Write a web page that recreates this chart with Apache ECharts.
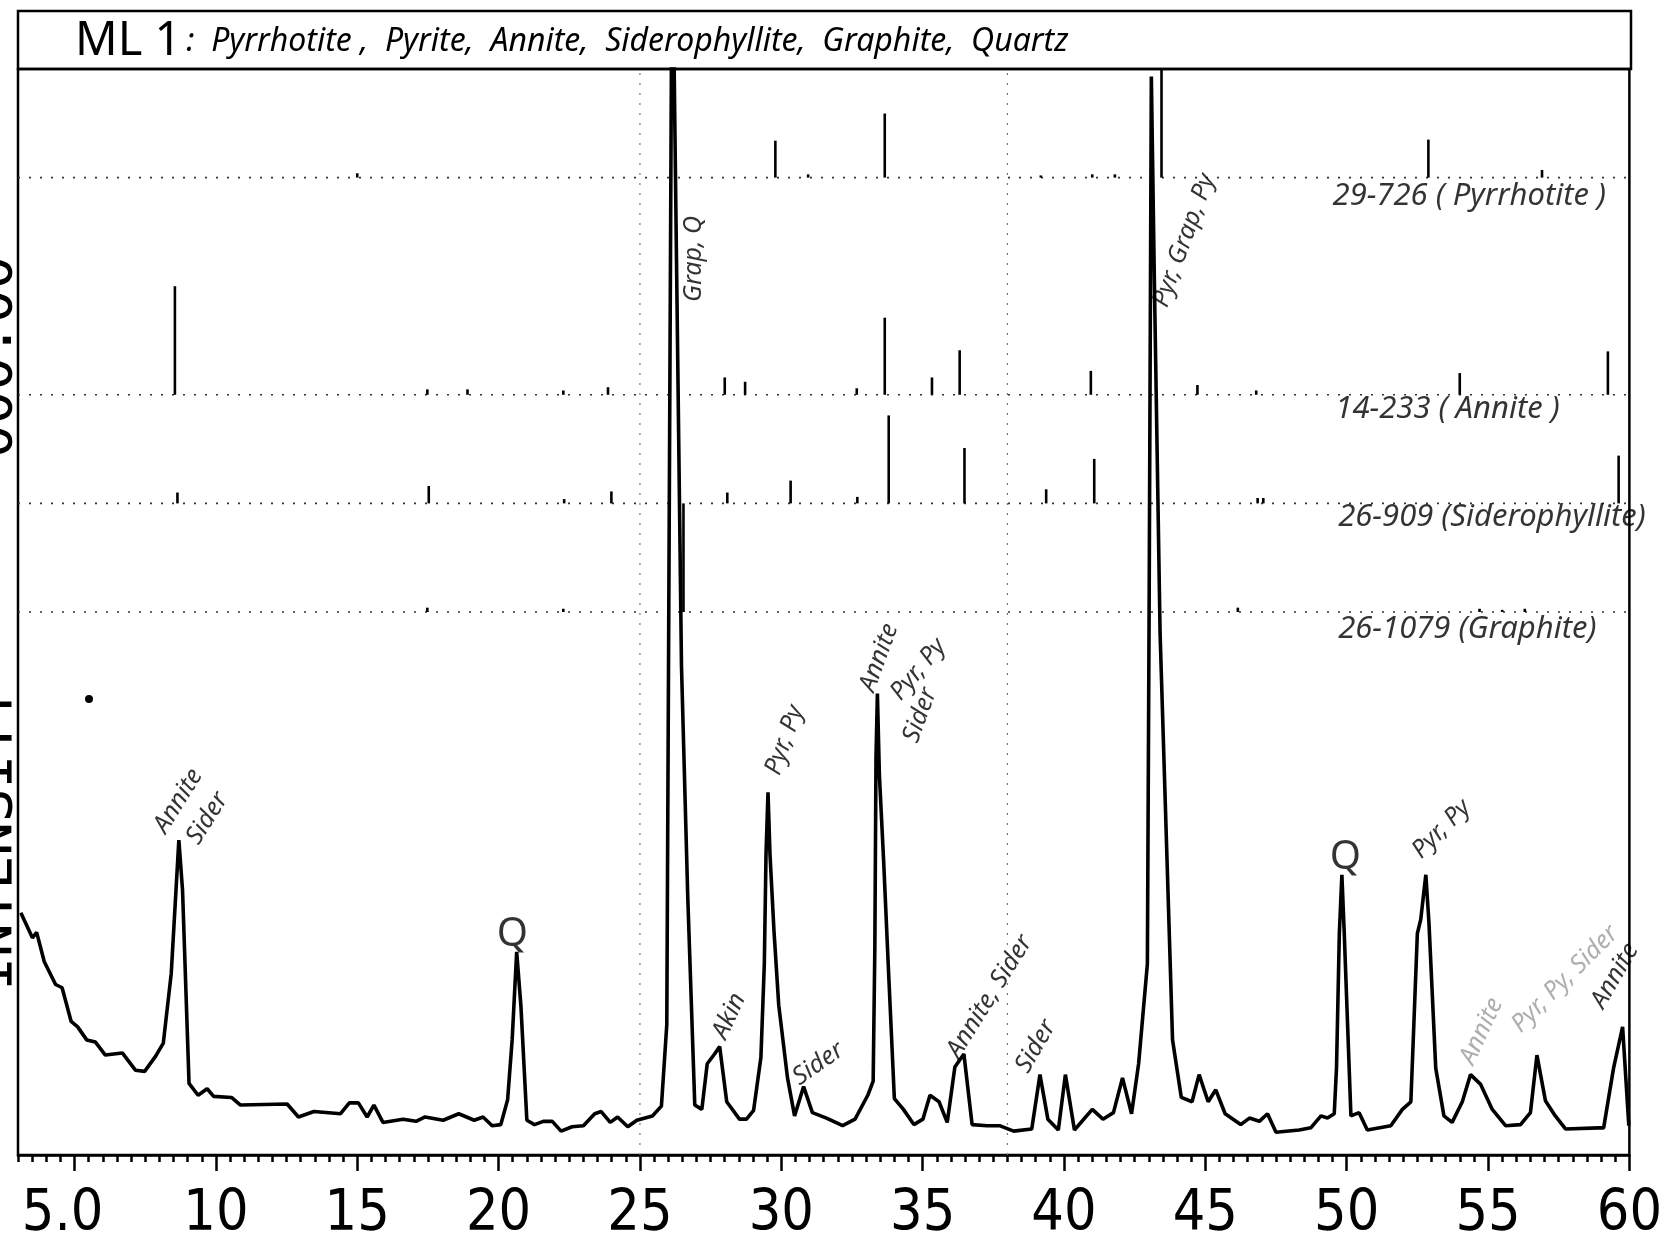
<!DOCTYPE html>
<html>
<head>
<meta charset="utf-8">
<title>ML 1 XRD</title>
<script src="https://cdn.jsdelivr.net/npm/echarts@6/dist/echarts.min.js"></script>
<style>
  html, body { margin: 0; padding: 0; background: #fff; }
  #chart { width: 1665px; height: 1248px; }
</style>
</head>
<body>
<div id="chart"></div>
<script>
// measured pattern (2-theta, intensity in chart units, top of frame = 1000)
var twoTheta = [3.10, 3.51, 3.66, 3.93, 4.33, 4.56, 4.88, 5.11, 5.43, 5.74, 6.09, 6.69, 7.16, 7.48, 7.87, 8.14, 8.42, 8.69, 8.82, 9.05,
  9.37, 9.69, 9.92, 10.55, 10.87, 12.52, 12.92, 13.47, 14.41, 14.72, 15.04, 15.35, 15.59, 15.91, 16.62, 17.08, 17.40, 18.04, 18.59, 19.14,
  19.45, 19.77, 20.08, 20.32, 20.48, 20.64, 20.79, 21.00, 21.27, 21.58, 21.90, 22.21, 22.60, 23.00, 23.40, 23.63, 23.95, 24.21, 24.57, 24.89,
  25.44, 25.76, 25.95, 26.14, 26.47, 26.69, 26.94, 27.19, 27.38, 27.64, 27.82, 28.07, 28.52, 28.77, 29.02, 29.28, 29.40, 29.46, 29.53, 29.60,
  29.74, 29.91, 30.22, 30.47, 30.79, 31.10, 31.60, 32.17, 32.61, 33.06, 33.25, 33.31, 33.35, 33.40, 33.47, 33.62, 33.81, 34.00, 34.32, 34.69,
  35.01, 35.26, 35.58, 35.87, 36.14, 36.46, 36.75, 37.28, 37.72, 38.22, 38.86, 39.15, 39.43, 39.80, 40.05, 40.37, 41.00, 41.38, 41.75, 42.07,
  42.39, 42.64, 42.95, 43.01, 43.09, 43.20, 43.40, 43.84, 44.15, 44.53, 44.78, 45.10, 45.37, 45.70, 46.25, 46.56, 46.91, 47.20, 47.50, 48.32,
  48.73, 49.09, 49.32, 49.56, 49.64, 49.74, 49.83, 49.91, 50.15, 50.44, 50.73, 51.56, 51.97, 52.27, 52.50, 52.62, 52.80, 52.91, 53.15, 53.44,
  53.73, 54.09, 54.38, 54.74, 55.15, 55.62, 56.15, 56.50, 56.73, 57.03, 57.38, 57.74, 58.91, 59.09, 59.44, 59.76, 59.98];
var intensity = [223, 200, 205, 178, 157, 154, 123, 118, 106, 104, 92, 94, 78, 77, 91, 103, 167, 290, 244, 66,
  55, 61, 54, 53, 46, 47, 35, 40, 38, 48, 48, 35, 46, 30, 33, 31, 35, 32, 38, 32,
  35, 27, 28, 51, 106, 187, 137, 32, 28, 31, 31, 22, 26, 27, 38, 40, 30, 35, 26, 32,
  36, 45, 120, 1150, 450, 239, 46, 42, 84, 93, 100, 49, 33, 33, 41, 90, 176, 277, 334, 277,
  207, 138, 71, 36, 63, 39, 34, 27, 33, 55, 68, 192, 366, 425, 350, 271, 160, 52, 42, 28,
  33, 55, 49, 30, 81, 93, 28, 27, 27, 22, 24, 74, 33, 23, 74, 23, 42, 33, 39, 71,
  38, 84, 176, 493, 993, 800, 480, 106, 53, 49, 74, 49, 60, 38, 28, 34, 31, 38, 21, 23,
  25, 36, 34, 38, 80, 204, 258, 207, 36, 39, 23, 27, 42, 49, 204, 217, 258, 214, 80, 36,
  30, 49, 74, 65, 42, 27, 28, 39, 92, 50, 36, 24, 25, 25, 80, 118, 27];

// reference cards: baseline level and [2-theta, relative intensity] sticks
var cardNames = ['29-726 ( Pyrrhotite )', '14-233 ( Annite )', '26-909 (Siderophyllite)', '26-1079 (Graphite)'];
var cardBase = [900, 700, 600, 500];
var pyrrhotiteSticks = [[15.0, 4], [29.79, 34], [30.95, 3], [33.66, 59], [39.18, 2], [41.0, 3], [41.8, 3], [43.45, 100], [52.89, 35], [56.91, 7]];
var anniteSticks = [[8.55, 100], [17.48, 5], [18.9, 5], [22.29, 4], [23.87, 7], [28.0, 16], [28.72, 12], [32.67, 6], [33.66, 71], [35.33, 16],
  [36.31, 41], [40.95, 22], [44.72, 9], [46.8, 4], [54.0, 20], [59.24, 40]];
var siderSticks = [[8.64, 10], [17.53, 16], [22.32, 4], [23.99, 11], [28.09, 10], [30.33, 21], [32.69, 6], [33.8, 81], [36.48, 51], [39.37, 13],
  [41.07, 41], [46.85, 5], [47.05, 5], [59.62, 44]];
var graphiteSticks = [[17.48, 4], [22.29, 3], [26.54, 100], [46.15, 4], [54.7, 3], [55.5, 2], [56.3, 3]];
var allSticks = [pyrrhotiteSticks, anniteSticks, siderSticks, graphiteSticks];

// axis ticks
var majorTicks = [5, 10, 15, 20, 25, 30, 35, 40, 45, 50, 55, 60];
var minorTicks = [];
for (var t = 3; t <= 60; t += 0.5) {
  if (t % 5 !== 0) minorTicks.push(t);
}
var scanLines = [25, 38];

// handwritten peak notes: text, 2-theta, intensity, rotation
var notes = [
  ['Annite', 8.67, 326, 58], ['Sider', 9.7, 310, 58], ['Q', 20.49, 203, 0],
  ['Grap, Q', 26.92, 825, 90], ['Akin', 28.16, 128, 65], ['Pyr, Py', 30.12, 382, 70],
  ['Sider', 31.31, 84, 35], ['Annite', 33.46, 458, 70], ['Pyr, Py', 34.85, 447, 50],
  ['Sider', 34.91, 405, 70], ['Annite, Sider', 37.37, 146, 58], ['Sider', 39.0, 100, 60],
  ['Pyr, Grap, Py', 44.25, 842, 70], ['Q', 49.95, 274, 0], ['Pyr, Py', 53.35, 300, 45],
  ['Annite', 54.77, 114, 65], ['Pyr, Py, Sider', 57.72, 162, 45], ['Annite', 59.49, 165, 60]
];
var faintNotes = ['Annite|54.77', 'Pyr, Py, Sider|57.72'];
var cardLabelPos = [[49.5, 883], [49.6, 687], [49.7, 587], [49.7, 484]];

var hand = "'Noto Sans', 'DejaVu Sans', sans-serif";
var plotter = "'Liberation Sans Narrow', 'DejaVu Sans Condensed', 'DejaVu Sans Mono', monospace";

var chart = echarts.init(document.getElementById('chart'));

function stickRenderer(base) {
  return function (params, api) {
    var p0 = api.coord([api.value(0), base]);
    var p1 = api.coord([api.value(0), base + api.value(1)]);
    return {
      type: 'line',
      shape: { x1: p0[0], y1: p0[1], x2: p1[0], y2: p1[1] },
      style: { stroke: '#000', lineWidth: 2.6 }
    };
  };
}

var series = [];
series.push({
  name: 'ML 1',
  type: 'line',
  data: twoTheta.map(function (x, i) { return [x, intensity[i]]; }),
  showSymbol: false,
  clip: true,
  lineStyle: { color: '#000', width: 3.6 },
  z: 5
});

scanLines.forEach(function (x) {
  series.push({
    type: 'line',
    data: [[x, 0], [x, 1000]],
    showSymbol: false,
    silent: true,
    lineStyle: { color: '#777', width: 1.2, type: [2, 8] },
    z: 1
  });
});

cardBase.forEach(function (base, i) {
  series.push({
    type: 'line',
    data: [[3, base], [60, base]],
    showSymbol: false,
    silent: true,
    lineStyle: { color: '#333', width: 1.6, type: [2, 9] },
    z: 2
  });
  series.push({
    name: cardNames[i],
    type: 'custom',
    clip: true,
    renderItem: stickRenderer(base),
    data: allSticks[i],
    z: 4
  });
  series.push({
    type: 'scatter',
    symbolSize: 0,
    silent: true,
    data: [{
      value: cardLabelPos[i],
      label: {
        show: true, position: 'right', distance: 0,
        formatter: cardNames[i],
        fontFamily: hand, fontStyle: 'italic', fontSize: 31, color: '#000'
      }
    }],
    z: 6
  });
});

series.push({
  type: 'scatter',
  symbolSize: 0,
  silent: true,
  data: notes.map(function (n) {
    var faint = faintNotes.indexOf(n[0] + '|' + n[1]) >= 0;
    return {
      value: [n[1], n[2]],
      label: {
        show: true, position: 'inside',
        formatter: n[0], rotate: n[3],
        fontFamily: hand, fontStyle: n[0] === 'Q' ? 'normal' : 'italic',
        fontSize: n[0] === 'Q' ? 40 : 25,
        color: faint ? '#9a9a9a' : '#000'
      }
    };
  }),
  z: 6
});

var option = {
  animation: false,
  backgroundColor: '#fff',
  title: {
    text: '{big|ML 1} {t|:  Pyrrhotite ,  Pyrite,  Annite,  Siderophyllite,  Graphite,  Quartz}',
    left: 70,
    top: 13,
    textStyle: {
      fontWeight: 'normal',
      rich: {
        big: { fontFamily: hand, fontSize: 47, fontWeight: 'normal', color: '#000' },
        t: { fontFamily: hand, fontStyle: 'italic', fontWeight: 'normal', fontSize: 32, color: '#000' }
      }
    }
  },
  grid: {
    left: 18, right: 34, top: 69, bottom: 93,
    show: true, borderColor: '#000', borderWidth: 2.5, backgroundColor: 'transparent'
  },
  xAxis: [{
    type: 'value', min: 3, max: 60,
    axisLine: { show: true, lineStyle: { color: '#000', width: 2.5 } },
    axisTick: { show: true, customValues: majorTicks, length: 16, lineStyle: { color: '#000', width: 2.5 } },
    axisLabel: {
      customValues: majorTicks,
      margin: 32,
      color: '#000',
      fontFamily: plotter,
      fontSize: 57,
      formatter: function (v) { return v === 5 ? '{s|5.0}' : String(v); },
      rich: { s: { fontFamily: plotter, fontSize: 57, color: '#000', padding: [0, 24, 0, 0] } }
    },
    splitLine: { show: false }
  }, {
    type: 'value', min: 3, max: 60, position: 'bottom', offset: 0,
    axisLine: { show: false },
    axisTick: { show: true, customValues: minorTicks, length: 7, lineStyle: { color: '#000', width: 2.5 } },
    axisLabel: { show: false },
    splitLine: { show: false }
  }],
  yAxis: {
    type: 'value', min: 0, max: 1000,
    axisLine: { show: false }, axisTick: { show: false }, axisLabel: { show: false },
    splitLine: { show: false }
  },
  graphic: [
    { type: 'rect', shape: { x: 18, y: 11, width: 1613, height: 58 }, style: { fill: 'none', stroke: '#000', lineWidth: 2.5 } },
    { type: 'text', x: 24, y: 357, rotation: Math.PI / 2,
      style: { text: '000.00', font: "56px 'DejaVu Sans Mono', monospace", fill: '#000', textAlign: 'center', textVerticalAlign: 'bottom' } },
    { type: 'text', x: 24, y: 839, rotation: Math.PI / 2,
      style: { text: 'INTENSITY', font: "56px 'DejaVu Sans Mono', monospace", fill: '#000', textAlign: 'center', textVerticalAlign: 'bottom' } },
    { type: 'circle', shape: { cx: 89, cy: 699, r: 4 }, style: { fill: '#000' } }
  ],
  series: series
};

chart.setOption(option);
</script>
</body>
</html>
